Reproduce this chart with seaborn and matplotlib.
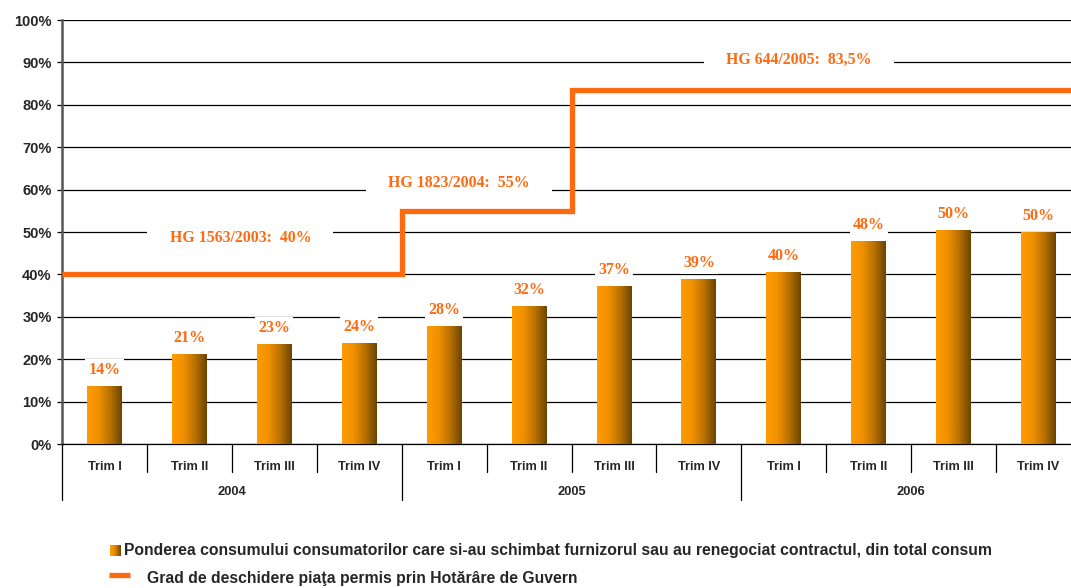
import numpy as np
import pandas as pd
import seaborn as sns
import matplotlib.pyplot as plt
from matplotlib.colors import LinearSegmentedColormap
from matplotlib.lines import Line2D

# date
ani = ["2004", "2005", "2006"]
trimestre = ["Trim I", "Trim II", "Trim III", "Trim IV"]
pondere = [13.6, 21.2, 23.4, 23.7, 27.7, 32.4, 37.1, 38.9, 40.4, 47.7, 50.3, 50.0]
# pragurile de deschidere a pietei (trepte)
prag_x = [-0.5, 3.5, 5.5, 11.5]
prag_y = [40, 55, 83.5, 83.5]
prag_text = ["HG 1563/2003:  40%", "HG 1823/2004:  55%", "HG 644/2005:  83,5%"]
prag_text_poz = [(1.6, 48.6), (4.17, 61.6), (8.18, 90.6)]
leg_bare = "Ponderea consumului consumatorilor care si-au schimbat furnizorul sau au renegociat contractul, din total consum"
leg_linie = "Grad de deschidere piaţa permis prin Hotărâre de Guvern"

portocaliu = "#FF6A10"
grad = LinearSegmentedColormap.from_list("bara", ["#FF9C00", "#F09000", "#B87000", "#6A4400"])
serif = ["Liberation Serif", "DejaVu Serif"]

sns.set_style("white")
plt.rcParams["font.family"] = ["Liberation Sans", "DejaVu Sans"]

df = pd.DataFrame({
    "slot": [f"{a} {t}" for a in ani for t in trimestre],
    "val": pondere,
})

fig = plt.figure(figsize=(10.71, 5.88), dpi=100)
ax = fig.add_axes([62 / 1071, 1 - 444 / 588, (1081 - 62) / 1071, 424 / 588])

sns.barplot(data=df, x="slot", y="val", ax=ax, width=0.41, color="#FF9C00", zorder=3)

# gradient pe bare
grd = np.linspace(0, 1, 256).reshape(1, -1)
for p in list(ax.patches):
    x0, w, h = p.get_x(), p.get_width(), p.get_height()
    ax.imshow(grd, cmap=grad, extent=[x0, x0 + w, 0, h], aspect="auto", zorder=3)
    p.set_visible(False)

ax.set_xlim(-0.5, 11.5)
ax.set_ylim(0, 100)
ax.set_yticks(np.arange(0, 101, 10))
ax.set_yticklabels([f"{v}%" for v in range(0, 101, 10)], fontsize=10.5, fontweight="bold")
ax.yaxis.grid(True, color="black", lw=0.9, zorder=0)
ax.set_axisbelow(True)
ax.tick_params(axis="y", length=3.5, width=0.9, color="black", pad=4, left=True)
ax.set_xlabel("")
ax.set_ylabel("")

# axa x pe doua niveluri
ax.set_xticks(range(12))
ax.set_xticklabels(trimestre * 3, fontsize=9.2, fontweight="bold")
ax.tick_params(axis="x", length=0, pad=12)
trans = ax.get_xaxis_transform()
for i in range(13):
    jos = -0.132 if i % 4 == 0 else -0.066
    ax.plot([i - 0.5, i - 0.5], [0, jos], color="black", lw=0.9, transform=trans, clip_on=False)
for k, a in enumerate(ani):
    ax.text(4 * k + 1.5, -0.113, a, transform=trans, ha="center", va="center",
            fontsize=9.3, fontweight="bold")

for s in ["top", "right"]:
    ax.spines[s].set_visible(False)
ax.spines["left"].set_color("#555555")
ax.spines["left"].set_linewidth(1.8)
ax.spines["bottom"].set_color("black")
ax.spines["bottom"].set_linewidth(0.9)

# treapta
ax.plot(prag_x, prag_y, drawstyle="steps-post", color=portocaliu, lw=3.8, zorder=4,
        solid_joinstyle="miter", solid_capstyle="butt")

for txt, (tx, ty) in zip(prag_text, prag_text_poz):
    ax.text(tx, ty, txt, ha="center", va="center", color=portocaliu, fontsize=11.4,
            fontweight="bold", family=serif, zorder=3.5,
            bbox=dict(boxstyle="square,pad=1.4", fc="white", ec="none"))

for i, v in enumerate(pondere):
    ax.annotate(f"{round(v)}%", (i, v), xytext=(0, 6), textcoords="offset points",
                ha="center", va="bottom", color=portocaliu, fontsize=11.5, fontweight="bold",
                family=serif, zorder=5,
                bbox=dict(boxstyle="square,pad=0.2", fc="white", ec="none"))

# legenda
lax = fig.add_axes([110 / 1071, 1 - 556 / 588, 10.5 / 1071, 11 / 588])
lax.imshow(grd, cmap=grad, aspect="auto")
lax.axis("off")
fig.text(124 / 1071, 1 - 551 / 588, leg_bare, ha="left", va="center", fontsize=11.3, fontweight="bold")
fig.add_artist(Line2D([109 / 1071, 130 / 1071], [1 - 575 / 588, 1 - 575 / 588],
                      color=portocaliu, lw=3.8, solid_capstyle="butt", transform=fig.transFigure))
fig.text(147 / 1071, 1 - 578 / 588, leg_linie, ha="left", va="center", fontsize=11.3, fontweight="bold")

fig.savefig("out.png", dpi=100)
